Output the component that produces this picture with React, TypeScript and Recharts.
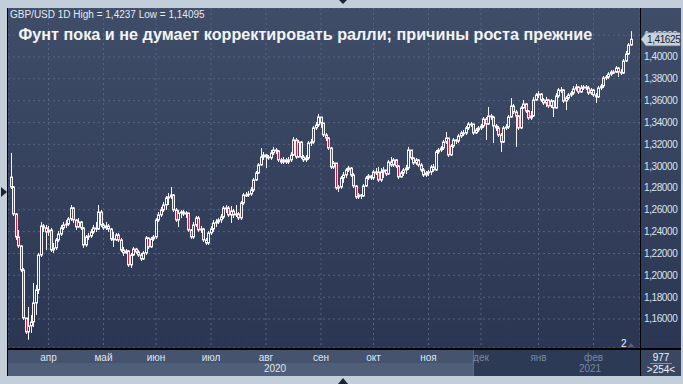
import { ComposedChart, Bar, XAxis, YAxis, CartesianGrid, ReferenceLine } from "recharts";

const FONT = "'Liberation Sans', Arial, sans-serif";

// daily GBP/USD candles, Mar 2020 .. Feb 2021 (open = previous close)
const firstOpen = 1.29;
const closes = [
	1.2809, 1.2562, 1.2351, 1.2269, 1.2049, 1.1609, 1.1481, 1.1536, 1.1573, 1.1747,
	1.1866, 1.2186, 1.2452, 1.2434, 1.2397, 1.2415, 1.2232, 1.2251, 1.2324, 1.2378,
	1.2434, 1.2461, 1.247, 1.2516, 1.2617, 1.2507, 1.2443, 1.2489, 1.2434, 1.2278,
	1.2351, 1.236, 1.2397, 1.2434, 1.2424, 1.258, 1.2461, 1.2434, 1.2452, 1.2424,
	1.2333, 1.2324, 1.2369, 1.2324, 1.2232, 1.2205, 1.2223, 1.2095, 1.2186, 1.2241,
	1.2214, 1.2186, 1.215, 1.2205, 1.2342, 1.226, 1.2333, 1.2351, 1.2507, 1.2553,
	1.2599, 1.2644, 1.2708, 1.2718, 1.2736, 1.2599, 1.2507, 1.2571, 1.258, 1.2562,
	1.2571, 1.2415, 1.2351, 1.2461, 1.2525, 1.2415, 1.2424, 1.2324, 1.2296, 1.2388,
	1.2424, 1.2479, 1.2489, 1.2507, 1.2534, 1.2617, 1.2617, 1.2553, 1.2589, 1.2553,
	1.2562, 1.2525, 1.2663, 1.2736, 1.2736, 1.2745, 1.2782, 1.2873, 1.2937, 1.3011,
	1.3084, 1.3102, 1.3084, 1.3075, 1.3121, 1.3148, 1.3139, 1.3057, 1.3038, 1.3057,
	1.3038, 1.3057, 1.3102, 1.324, 1.3084, 1.3221, 1.3084, 1.3057, 1.3075, 1.3212,
	1.3221, 1.335, 1.3377, 1.345, 1.3395, 1.3286, 1.3258, 1.3166, 1.2992, 1.3029,
	1.28, 1.2809, 1.2892, 1.2919, 1.2965, 1.2983, 1.2919, 1.2818, 1.2718, 1.2736,
	1.2727, 1.2818, 1.2892, 1.291, 1.2892, 1.2947, 1.2947, 1.2873, 1.2947, 1.2965,
	1.2928, 1.3038, 1.3011, 1.3057, 1.3002, 1.2901, 1.2937, 1.2965, 1.2983, 1.3148,
	1.3075, 1.3029, 1.3057, 1.3011, 1.2965, 1.2919, 1.2937, 1.2947, 1.2992, 1.2965,
	1.313, 1.3148, 1.3166, 1.3221, 1.3258, 1.3102, 1.3185, 1.324, 1.323, 1.3276,
	1.3304, 1.3304, 1.335, 1.3386, 1.3386, 1.3304, 1.3331, 1.335, 1.3368, 1.3432,
	1.3386, 1.346, 1.345, 1.3368, 1.335, 1.3286, 1.3221, 1.335, 1.3359, 1.345,
	1.3551, 1.3496, 1.346, 1.335, 1.3533, 1.357, 1.3505, 1.3441, 1.346, 1.3606,
	1.3652, 1.3661, 1.3606, 1.3579, 1.3606, 1.3551, 1.3597, 1.3533, 1.3643, 1.3698,
	1.3698, 1.3597, 1.3624, 1.3652, 1.367, 1.3707, 1.3725, 1.3679, 1.3716, 1.3725,
	1.3716, 1.367, 1.3698, 1.3652, 1.3634, 1.3716, 1.3734, 1.3808, 1.3817, 1.3844,
	1.3862, 1.3862, 1.3899, 1.3862, 1.3853, 1.3963, 1.4027, 1.411, 1.41625,
];
const highs = [
	1.3121, 1.2818, 1.2571, 1.2415, 1.2278, 1.2067, 1.1609, 1.171, 1.1637, 1.193,
	1.1911, 1.2205, 1.2489, 1.247, 1.2461, 1.2452, 1.2434, 1.2296, 1.2342, 1.2406,
	1.2461, 1.2489, 1.2507, 1.2534, 1.2644, 1.2626, 1.2516, 1.2525, 1.2498, 1.2443,
	1.2369, 1.2388, 1.2424, 1.2461, 1.2489, 1.2644, 1.2599, 1.2479, 1.2489, 1.247,
	1.2434, 1.2397, 1.2388, 1.2388, 1.2342, 1.226, 1.2241, 1.2232, 1.2205, 1.226,
	1.2251, 1.2232, 1.2205, 1.2223, 1.236, 1.2351, 1.2351, 1.2369, 1.2525, 1.258,
	1.2626, 1.2672, 1.2727, 1.2754, 1.2809, 1.2745, 1.2617, 1.2599, 1.2599, 1.2599,
	1.2589, 1.2553, 1.2424, 1.2489, 1.2543, 1.2543, 1.2452, 1.2434, 1.2342, 1.2406,
	1.2452, 1.2507, 1.2516, 1.2525, 1.2562, 1.2635, 1.2644, 1.2635, 1.2635, 1.2608,
	1.2644, 1.258, 1.2681, 1.2754, 1.2763, 1.2772, 1.2809, 1.2892, 1.2956, 1.3029,
	1.3166, 1.313, 1.3112, 1.3102, 1.3148, 1.3176, 1.3166, 1.3148, 1.3075, 1.3084,
	1.3075, 1.3084, 1.313, 1.3267, 1.3258, 1.324, 1.323, 1.3102, 1.3102, 1.323,
	1.3249, 1.3368, 1.3404, 1.3478, 1.3423, 1.3386, 1.3304, 1.3267, 1.3176, 1.3047,
	1.302, 1.2827, 1.291, 1.2947, 1.2983, 1.3002, 1.2992, 1.2937, 1.2827, 1.2754,
	1.2745, 1.2837, 1.291, 1.2928, 1.2919, 1.2965, 1.2983, 1.2992, 1.2983, 1.2992,
	1.2956, 1.3057, 1.3084, 1.3075, 1.3066, 1.3011, 1.2956, 1.2983, 1.3011, 1.3176,
	1.3148, 1.3084, 1.3075, 1.3066, 1.3029, 1.2983, 1.2956, 1.2965, 1.3011, 1.302,
	1.3148, 1.3166, 1.3185, 1.324, 1.3313, 1.3249, 1.3203, 1.3258, 1.3249, 1.3295,
	1.3322, 1.3331, 1.3368, 1.3404, 1.3404, 1.3377, 1.335, 1.3368, 1.3386, 1.345,
	1.345, 1.3542, 1.3478, 1.346, 1.3386, 1.3368, 1.3304, 1.3368, 1.3386, 1.3469,
	1.3624, 1.357, 1.3514, 1.3469, 1.3551, 1.3606, 1.3579, 1.3514, 1.3505, 1.3634,
	1.367, 1.3688, 1.367, 1.3624, 1.3634, 1.3615, 1.3615, 1.3606, 1.367, 1.3716,
	1.3725, 1.3707, 1.3643, 1.367, 1.3688, 1.3734, 1.3753, 1.3734, 1.3743, 1.3743,
	1.3743, 1.3734, 1.3716, 1.3707, 1.367, 1.3734, 1.3753, 1.3826, 1.3835, 1.3862,
	1.3881, 1.3881, 1.3917, 1.3908, 1.389, 1.3982, 1.4055, 1.4128, 1.4237,
];
const lows = [
	1.2791, 1.2543, 1.2324, 1.2251, 1.203, 1.1591, 1.1463, 1.14095, 1.1472, 1.1527,
	1.1637, 1.1829, 1.2168, 1.2397, 1.2232, 1.236, 1.2214, 1.2205, 1.2232, 1.2305,
	1.236, 1.2415, 1.2434, 1.2452, 1.2498, 1.2479, 1.2415, 1.2434, 1.2415, 1.2251,
	1.226, 1.2324, 1.2342, 1.2379, 1.2397, 1.2415, 1.2443, 1.2415, 1.2415, 1.2397,
	1.2314, 1.226, 1.2314, 1.2305, 1.2214, 1.2177, 1.2196, 1.2076, 1.2067, 1.2177,
	1.2196, 1.2168, 1.2131, 1.214, 1.2186, 1.2241, 1.2251, 1.2314, 1.2333, 1.2489,
	1.2534, 1.258, 1.2599, 1.2644, 1.2699, 1.258, 1.2489, 1.2443, 1.2525, 1.2543,
	1.2525, 1.2397, 1.2333, 1.2333, 1.2443, 1.2397, 1.2388, 1.2305, 1.2278, 1.2278,
	1.2369, 1.2397, 1.2443, 1.247, 1.2479, 1.2516, 1.2571, 1.2534, 1.2479, 1.2525,
	1.2534, 1.2507, 1.2507, 1.2644, 1.2718, 1.2718, 1.2727, 1.2763, 1.2864, 1.2928,
	1.3002, 1.3057, 1.2983, 1.3057, 1.3057, 1.3102, 1.3112, 1.3038, 1.302, 1.302,
	1.302, 1.302, 1.3038, 1.3093, 1.3066, 1.3075, 1.3066, 1.3038, 1.3038, 1.3057,
	1.3185, 1.3203, 1.3331, 1.3359, 1.335, 1.3267, 1.323, 1.3148, 1.2974, 1.2974,
	1.2782, 1.2763, 1.2791, 1.2846, 1.2892, 1.2947, 1.2901, 1.28, 1.2699, 1.2699,
	1.2699, 1.2718, 1.2809, 1.2873, 1.2873, 1.2873, 1.2919, 1.2855, 1.2855, 1.2892,
	1.291, 1.2919, 1.2992, 1.2992, 1.2983, 1.2882, 1.2892, 1.291, 1.2928, 1.2965,
	1.3057, 1.3011, 1.3011, 1.2992, 1.2947, 1.2901, 1.2901, 1.291, 1.2919, 1.2947,
	1.2956, 1.3112, 1.313, 1.3148, 1.3203, 1.3084, 1.3093, 1.3166, 1.3203, 1.3212,
	1.3258, 1.3276, 1.3286, 1.3331, 1.3359, 1.3286, 1.3295, 1.3313, 1.3331, 1.335,
	1.324, 1.3377, 1.3423, 1.3212, 1.3322, 1.3267, 1.313, 1.3212, 1.3331, 1.334,
	1.3441, 1.3478, 1.3176, 1.3331, 1.334, 1.3524, 1.3487, 1.3423, 1.3423, 1.345,
	1.3597, 1.3624, 1.3588, 1.356, 1.3542, 1.3533, 1.3533, 1.345, 1.3524, 1.3624,
	1.367, 1.3579, 1.3514, 1.3606, 1.3634, 1.3652, 1.3688, 1.3661, 1.367, 1.3698,
	1.3698, 1.3652, 1.3652, 1.3634, 1.3579, 1.3624, 1.3698, 1.3716, 1.3789, 1.3799,
	1.3826, 1.3844, 1.3853, 1.3817, 1.3835, 1.3844, 1.3954, 1.4018, 1.4101,
];

const monthTicks = [15, 37, 58, 80, 102, 124, 145, 167, 188, 211, 233];
const monthLabels = ["апр", "май", "июн", "июл", "авг", "сен", "окт", "ноя", "дек", "янв", "фев"];
const priceTicks = [1.16, 1.18, 1.2, 1.22, 1.24, 1.26, 1.28, 1.3, 1.32, 1.34, 1.36, 1.38, 1.4, 1.42];
const lastPrice = closes[closes.length - 1];

const candles = closes.map((c, i) => {
	const o = i === 0 ? firstOpen : closes[i - 1];
	const h = Math.max(highs[i], o, c);
	const l = Math.min(lows[i], o, c);
	return { i, open: o, close: c, high: h, low: l, range: [l, h] };
});

const X_DOMAIN = [-1.2, 251.6];
const Y_DOMAIN = [1.13339, 1.44489];

const fmt = (v: number) => v.toFixed(5).replace(".", ",");

function Candle(props: any) {
	const { x, y, width, height, payload } = props;
	const { open, close, high, low } = payload;
	const y0 = Math.min(y, y + height);
	const h = Math.abs(height);
	const span = high - low || 1e-9;
	const py = (v: number) => y0 + ((high - v) / span) * h;
	const cx = Math.round(x + width / 2) + 0.5;
	const top = py(Math.max(open, close));
	const bot = py(Math.min(open, close));
	const down = close < open;
	const bh = Math.max(bot - top, 1);
	return (
		<g>
			<line x1={cx} x2={cx} y1={y0} y2={top} stroke="#f4f4f4" strokeWidth={1} />
			<line x1={cx} x2={cx} y1={top + bh} y2={y0 + h} stroke="#f4f4f4" strokeWidth={1} />
			<rect x={cx - 1} y={top} width={2} height={bh} fill={down ? "#e3163c" : "none"} stroke="#f4f4f4" strokeWidth={1} />
		</g>
	);
}

function PriceTick({ x, y, payload }: any) {
	return (
		<text x={x} y={y} dy={3.5} fill="#dde3ec" fontSize={10} fontFamily={FONT} letterSpacing={-0.4}>
			{fmt(payload.value)}
		</text>
	);
}

function MonthTick({ x, y, payload }: any) {
	const k = monthTicks.indexOf(payload.value);
	const dim = payload.value >= 188;
	return (
		<text x={x} y={y + 13} textAnchor="middle" fill={dim ? "#7886a0" : "#dfe6ef"} fontSize={10} fontFamily={FONT}>
			{monthLabels[k]}
		</text>
	);
}

function PriceTag(props: any) {
	const vb = props.viewBox || {};
	const r = vb.x + vb.width;
	const y = vb.y;
	return (
		<g>
			<polygon
				points={`${r + 1},${y} ${r + 6},${y - 6.5} ${r + 40},${y - 6.5} ${r + 40},${y + 6.5} ${r + 6},${y + 6.5}`}
				fill="#c9d1db"
				stroke="#8d99aa"
				strokeWidth={0.5}
			/>
			<text x={r + 7} y={y + 3.5} fill="#172033" fontSize={10} fontFamily={FONT} letterSpacing={-0.4}>
				{fmt(lastPrice)}
			</text>
		</g>
	);
}

export default function App() {
	return (
		<div style={{ position: "absolute", left: 0, top: 0, width: 683, height: 384, background: "#c3cedb", overflow: "hidden", fontFamily: FONT }}>
			<div style={{ position: "absolute", left: 8, top: 8, width: 673, height: 340, background: "linear-gradient(#404d68, #2a3652)" }} />
			<div style={{ position: "absolute", left: 8, top: 350, width: 632, height: 13, background: "#45536f" }} />
			<div style={{ position: "absolute", left: 8, top: 363, width: 632, height: 13, background: "#4f5e79" }} />
			<div style={{ position: "absolute", left: 473, top: 350, width: 167, height: 26, background: "#2d3a55", borderLeft: "1px solid #5a6a88" }} />
			<div style={{ position: "absolute", left: 641, top: 350, width: 40, height: 26, background: "#3a4762" }} />
			<div style={{ position: "absolute", left: 8, top: 8 }}>
				<ComposedChart width={673} height={368} data={candles} margin={{ top: 0, right: 0, bottom: 0, left: 0 }}>
					<CartesianGrid stroke="#56647f" strokeDasharray="2 3" />
					<XAxis
						dataKey="i"
						type="number"
						domain={X_DOMAIN}
						allowDataOverflow
						ticks={monthTicks}
						interval={0}
						height={28}
						axisLine={false}
						tickLine={false}
						tickSize={0}
						tickMargin={0}
						tick={<MonthTick />}
					/>
					<YAxis
						orientation="right"
						domain={Y_DOMAIN}
						allowDataOverflow
						ticks={priceTicks}
						interval={0}
						width={41}
						axisLine={false}
						tickLine={false}
						tickSize={0}
						tickMargin={4}
						tick={<PriceTick />}
					/>
					<Bar dataKey="range" shape={<Candle />} barSize={3} isAnimationActive={false} />
				</ComposedChart>
			</div>
			{/* last price tag, drawn above the axis labels with the same scales */}
			<div style={{ position: "absolute", left: 8, top: 8 }}>
				<ComposedChart width={673} height={368} data={candles} margin={{ top: 0, right: 41, bottom: 28, left: 0 }}>
					<XAxis dataKey="i" type="number" domain={X_DOMAIN} allowDataOverflow hide />
					<YAxis domain={Y_DOMAIN} allowDataOverflow hide />
					<ReferenceLine y={lastPrice} stroke="none" ifOverflow="visible" label={<PriceTag />} />
				</ComposedChart>
			</div>
			<div style={{ position: "absolute", left: 7, top: 8, width: 1, height: 368, background: "#000" }} />
			<div style={{ position: "absolute", left: 640, top: 8, width: 1, height: 368, background: "#000" }} />
			<div style={{ position: "absolute", left: 7, top: 348, width: 674, height: 2, background: "#000" }} />
			<svg width={683} height={384} style={{ position: "absolute", left: 0, top: 0, pointerEvents: "none" }} fontFamily={FONT}>
				<text x={10} y={17.5} fill="#e6ebf1" fontSize={10}>GBP/USD 1D High = 1,4237 Low = 1,14095</text>
				<text x={18.5} y={39.5} fill="#f2f4f7" fontSize={16.2} fontWeight="bold">
					Фунт пока и не думает корректировать ралли; причины роста прежние
				</text>
				<polygon points="1,187 7,192 1,197" fill="#1c2434" />
				<polygon points="339,0 347,0 343,4" fill="#1c2434" />
				<polygon points="338,384 348,384 343,378" fill="#1c2434" />
				<text x={275} y={372} textAnchor="middle" fill="#dfe5ee" fontSize={10}>2020</text>
				<text x={590} y={372} textAnchor="middle" fill="#7886a0" fontSize={10}>2021</text>
				<text x={661} y={361} textAnchor="middle" fill="#f2f4f7" fontSize={10}>977</text>
				<line x1={650} x2={672} y1={363.5} y2={363.5} stroke="#8090a8" strokeWidth={1} />
				<text x={661} y={373} textAnchor="middle" fill="#f2f4f7" fontSize={10}>&gt;254&lt;</text>
				<text x={621} y={347} fill="#f2f4f7" fontSize={10}>2</text>
				<polygon points="628,347 634,347 631,343" fill="#56647e" />
			</svg>
		</div>
	);
}
